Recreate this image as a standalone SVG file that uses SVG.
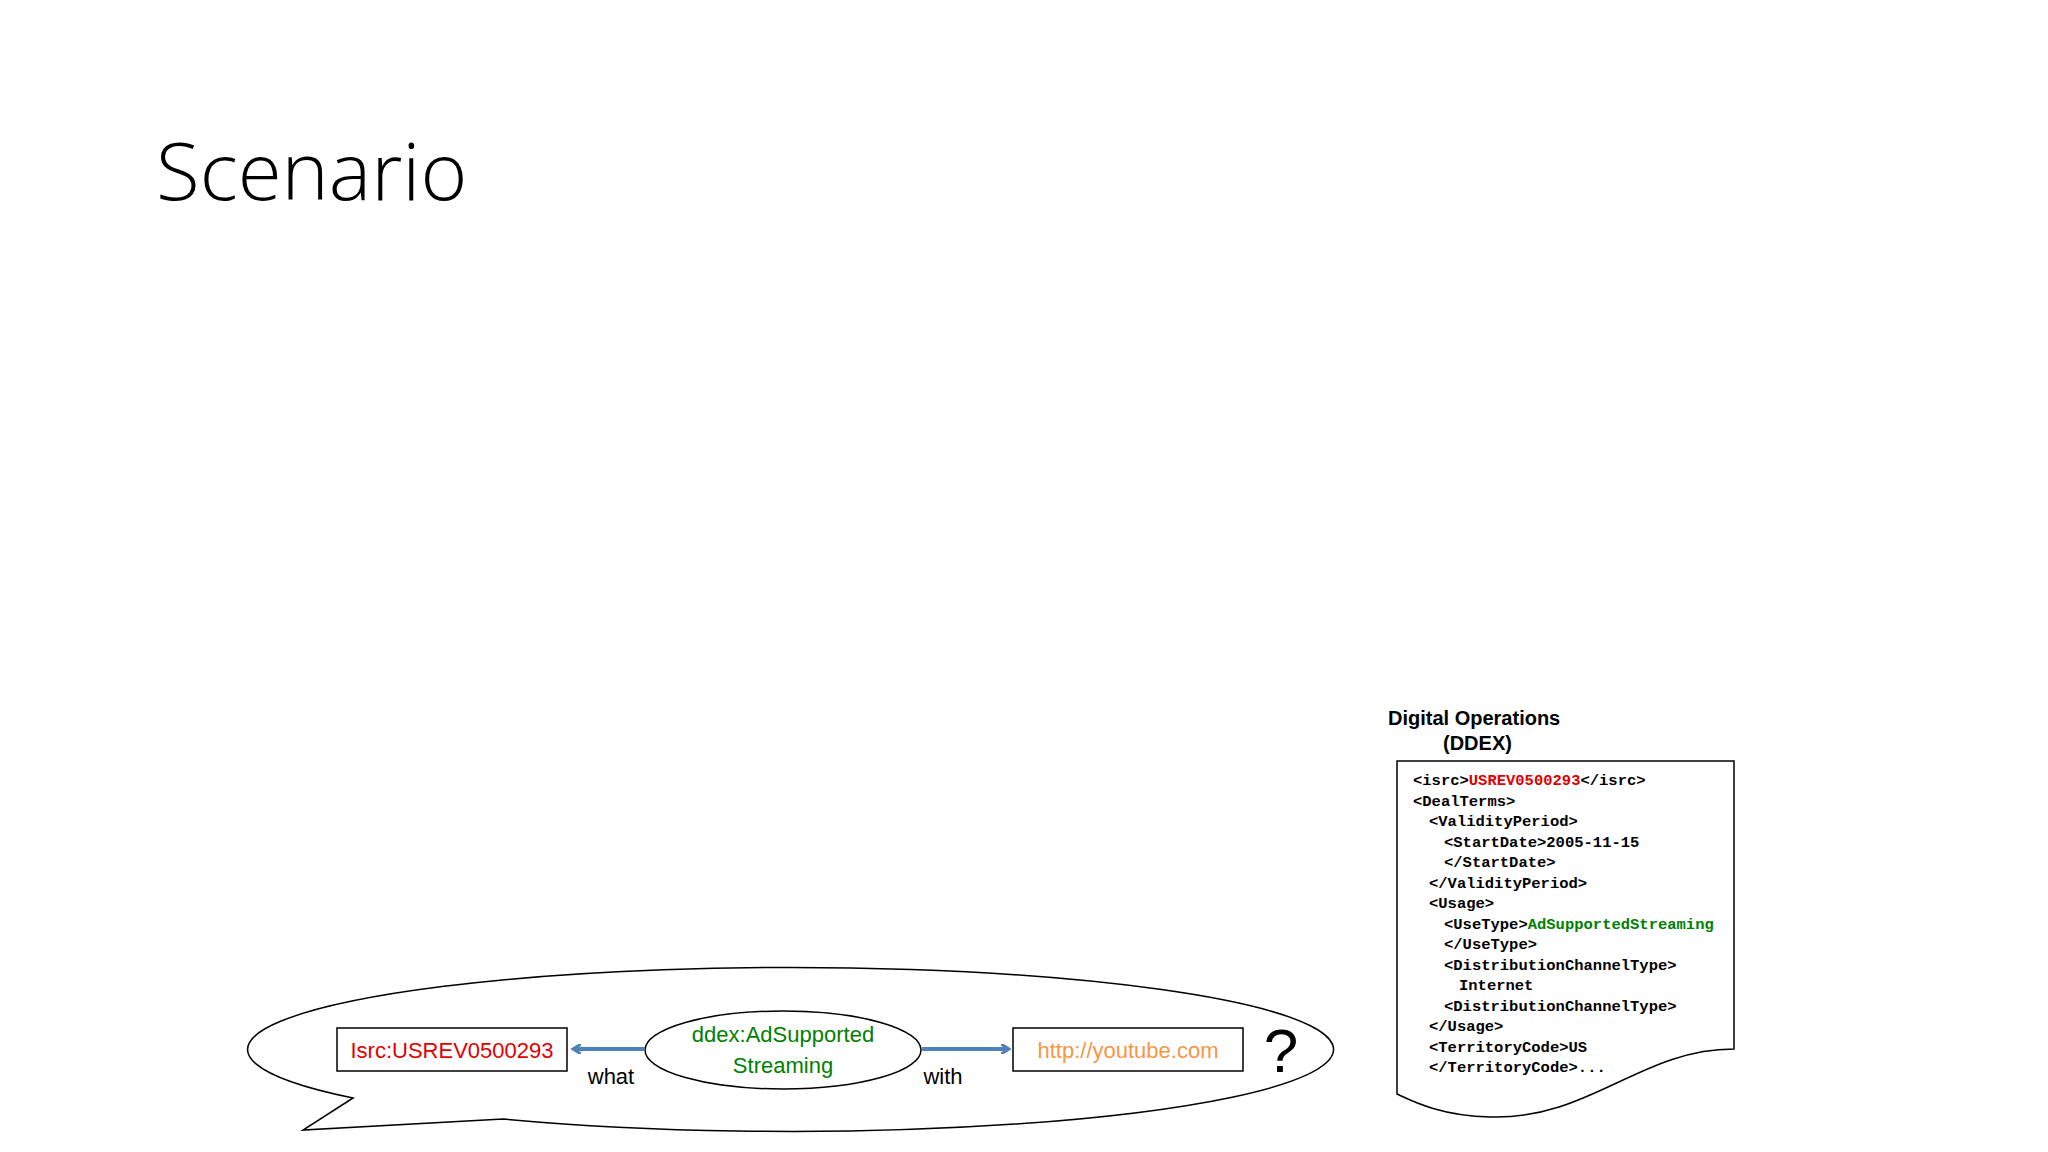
<svg xmlns="http://www.w3.org/2000/svg" width="2048" height="1152" viewBox="0 0 2048 1152">
<style>
.code{font-family:"Liberation Mono",monospace;font-size:15.5px;font-weight:bold;fill:#000}
.lbl{font-family:"Liberation Sans Narrow","Liberation Sans",sans-serif;font-size:22px;text-anchor:middle}
.stroke{fill:#fff;stroke:#000;stroke-width:1.5}
</style>
<defs>
<marker id="ah" markerWidth="10" markerHeight="10" refX="6" refY="5" orient="auto" markerUnits="userSpaceOnUse" viewBox="0 0 10 10"><path d="M0,0 L8,5 L0,10" fill="none" stroke="#4f81bd" stroke-width="3"/></marker>
</defs>
<rect width="2048" height="1152" fill="#fff"/>
<text x="156" y="200" font-family="Open Sans, sans-serif" font-weight="300" font-size="80" fill="#000">Scenario</text>
<g id="bubble">
<path class="stroke" d="M353,1098 A543,82 0 1 1 503,1119 L303,1130 Z"/>
</g>
<g id="isrc"><rect class="stroke" x="337" y="1028" width="230" height="43"/><text class="lbl" x="452" y="1058" fill="#e00000">Isrc:USREV0500293</text></g>
<g id="usetype"><ellipse class="stroke" cx="783" cy="1050" rx="138" ry="39"/><text class="lbl" x="783" y="1042" fill="#008000">ddex:AdSupported</text><text class="lbl" x="783" y="1073" fill="#008000">Streaming</text></g>
<g id="url"><rect class="stroke" x="1013" y="1028" width="230" height="43"/><text class="lbl" x="1128" y="1058" fill="#f79646">http://youtube.com</text></g>
<g id="connectors">
<line x1="645" y1="1049" x2="575" y2="1049" stroke="#4f81bd" stroke-width="4" marker-end="url(#ah)"/>
<line x1="922" y1="1049" x2="1007" y2="1049" stroke="#4f81bd" stroke-width="4" marker-end="url(#ah)"/>
</g>
<text class="lbl" x="611" y="1084" font-size="27" fill="#000">what</text>
<text class="lbl" x="943" y="1084" font-size="27" fill="#000">with</text>
<text x="1281" y="1072" font-family="Liberation Sans, sans-serif" font-size="62" text-anchor="middle">?</text>
<g id="ddex">
<text x="1388" y="725" font-family="Liberation Sans, sans-serif" font-weight="bold" font-size="20">Digital Operations</text>
<text x="1443" y="750" font-family="Liberation Sans, sans-serif" font-weight="bold" font-size="20">(DDEX)</text>
<path class="stroke" d="M1397,761 H1734 V1049 C1640,1049 1590,1120 1490,1117 C1440,1116 1410,1100 1397,1094 Z"/>
<text class="code" x="1413" y="785">&lt;isrc&gt;<tspan fill="#e00000">USREV0500293</tspan>&lt;/isrc&gt;</text>
<text class="code" x="1413" y="806">&lt;DealTerms&gt;</text>
<text class="code" x="1429" y="826">&lt;ValidityPeriod&gt;</text>
<text class="code" x="1444" y="847">&lt;StartDate&gt;2005-11-15</text>
<text class="code" x="1444" y="867">&lt;/StartDate&gt;</text>
<text class="code" x="1429" y="888">&lt;/ValidityPeriod&gt;</text>
<text class="code" x="1429" y="908">&lt;Usage&gt;</text>
<text class="code" x="1444" y="929">&lt;UseType&gt;<tspan fill="#008000">AdSupportedStreaming</tspan></text>
<text class="code" x="1444" y="949">&lt;/UseType&gt;</text>
<text class="code" x="1444" y="970">&lt;DistributionChannelType&gt;</text>
<text class="code" x="1459" y="990" fill="#f79646">Internet</text>
<text class="code" x="1444" y="1011">&lt;DistributionChannelType&gt;</text>
<text class="code" x="1429" y="1031">&lt;/Usage&gt;</text>
<text class="code" x="1429" y="1052">&lt;TerritoryCode&gt;US</text>
<text class="code" x="1429" y="1072">&lt;/TerritoryCode&gt;...</text>
</g>
</svg>
